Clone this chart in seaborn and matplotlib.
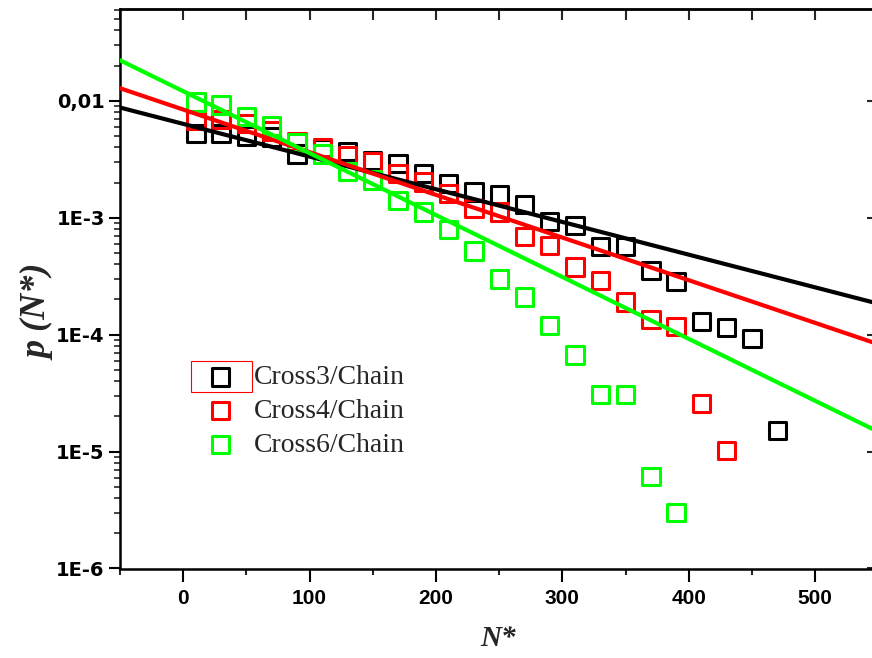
import numpy as np
import matplotlib
matplotlib.use("Agg")
import matplotlib.pyplot as plt
from matplotlib.patches import Rectangle
from matplotlib.font_manager import FontProperties
from matplotlib.ticker import LogLocator, MultipleLocator, NullFormatter, NullLocator
import seaborn as sns

# Cluster-size distributions p(N*) for three cross-linker / chain ratios
n_cross3 = [10, 30, 50, 70, 90, 110, 130, 150, 170, 190, 210, 230, 250, 270,
            290, 310, 330, 350, 370, 390, 410, 430, 450, 470]
p_cross3 = [0.00525, 0.00525, 0.0050, 0.0049, 0.0035, 0.0039, 0.0037, 0.0031,
            0.0029, 0.0024, 0.00196, 0.00166, 0.00156, 0.0013, 0.00093, 0.00086,
            0.00057, 0.00057, 0.000355, 0.000286, 0.00013, 0.000115, 9.25e-5, 1.52e-5]

n_cross4 = [10, 30, 50, 70, 90, 110, 130, 150, 170, 190, 210, 230, 250, 270,
            290, 310, 330, 350, 370, 390, 410, 430]
p_cross4 = [0.0068, 0.0069, 0.0064, 0.0055, 0.0045, 0.0040, 0.0034, 0.0030,
            0.0024, 0.00202, 0.00161, 0.0012, 0.00112, 0.00069, 0.00058, 0.00038,
            0.00029, 0.00019, 0.000135, 0.000118, 2.57e-5, 1.02e-5]

n_cross6 = [10, 30, 50, 70, 90, 110, 130, 150, 170, 190, 210, 230, 250, 270,
            290, 310, 330, 350, 370, 390]
p_cross6 = [0.0098, 0.0092, 0.0073, 0.0061, 0.0044, 0.0035, 0.0025, 0.0021,
            0.00141, 0.00112, 0.00079, 0.00052, 0.00030, 0.00021, 0.00012, 6.7e-5,
            3.07e-5, 3.07e-5, 6.1e-6, 3.0e-6]

# Exponential fits p(N*) = A * exp(-N* / tau)
fit_amp = [0.00635, 0.00842, 0.01208]
fit_tau = [155.3, 119.0, 82.0]

series_labels = ["Cross3/Chain", "Cross4/Chain", "Cross6/Chain"]
series_colors = ["#000000", "#ff0000", "#00ff00"]

x_ticks = [0, 100, 200, 300, 400, 500]
y_ticks = [1e-6, 1e-5, 1e-4, 1e-3, 1e-2]
y_ticklabels = ["1E-6", "1E-5", "1E-4", "1E-3", "0,01"]

sns.set_style("white")

W, H = 872, 658
fig = plt.figure(figsize=(W / 100, H / 100), dpi=100)
ax_left, ax_right, ax_top, ax_bottom = 120, 878.4, 9, 568.5
ax = fig.add_axes([ax_left / W, 1 - ax_bottom / H,
                   (ax_right - ax_left) / W, (ax_bottom - ax_top) / H])

handles = []
for n, p, col, lab in zip([n_cross3, n_cross4, n_cross6],
                          [p_cross3, p_cross4, p_cross6],
                          series_colors, series_labels):
    sns.scatterplot(x=n, y=p, marker="s", s=12.5 ** 2, color=col,
                    facecolor="none", edgecolor=col, linewidth=2.2,
                    ax=ax, zorder=3, label=lab, legend=False)
    handles.append(ax.collections[-1])

xs = np.linspace(-50, 550, 300)
for amp, tau, col in zip(fit_amp, fit_tau, series_colors):
    sns.lineplot(x=xs, y=amp * np.exp(-xs / tau), color=col, linewidth=3.0,
                 ax=ax, zorder=4, legend=False)

ax.set_yscale("log")
ax.set_xlim(-50, 550)
ax.set_ylim(1e-6, 0.061)

# ticks
ax.set_xticks(x_ticks, labels=[str(v) for v in x_ticks],
              fontfamily="Liberation Sans", fontweight="bold", fontsize=15)
ax.xaxis.set_minor_locator(MultipleLocator(50))
ax.set_yticks(y_ticks, labels=y_ticklabels,
              fontfamily="DejaVu Sans", fontweight="bold", fontsize=14)
ax.yaxis.set_minor_locator(LogLocator(base=10, subs=range(2, 10), numticks=20))
ax.yaxis.set_minor_formatter(NullFormatter())

ax.tick_params(axis="x", which="major", direction="out", length=9.4, width=1.5,
               bottom=True, top=False, pad=5, colors="black")
ax.tick_params(axis="x", which="minor", direction="out", length=4.3, width=1.5,
               bottom=True, top=False)
ax.tick_params(axis="y", which="major", direction="out", length=8, width=1.5,
               left=True, right=False, pad=3, colors="black")
ax.tick_params(axis="y", which="minor", direction="out", length=4, width=1.2,
               left=True, right=False)

for sp in ax.spines.values():
    sp.set_visible(True)
    sp.set_linewidth(1.8)
    sp.set_color("black")

# inward ticks on the top and right frame
top = ax.secondary_xaxis("top")
top.set_xticks(np.arange(-50, 551, 50))
top.xaxis.set_minor_locator(NullLocator())
top.tick_params(direction="in", length=8, width=1.5, labeltop=False)
top.spines["top"].set_linewidth(1.8)

right = ax.secondary_yaxis("right")
right.set_yticks(y_ticks)
right.yaxis.set_minor_locator(NullLocator())
right.tick_params(direction="in", length=8, width=1.5, labelright=False)
right.spines["right"].set_linewidth(1.8)

ax.set_xlabel("N*", fontfamily="Liberation Serif", fontstyle="italic",
              fontweight="bold", fontsize=21)
ax.xaxis.set_label_coords(0.498, -0.101)
ax.set_ylabel("p (N*)", fontfamily="Liberation Serif", fontstyle="italic",
              fontweight="bold", fontsize=26)
ax.yaxis.set_label_coords(-0.085, 0.458)

ax.legend(handles=handles, labels=series_labels, loc="upper left",
          bbox_to_anchor=(0.1145, 0.3643), frameon=False,
          prop=FontProperties(family="Liberation Serif", size=20),
          handlelength=1.0, handletextpad=0.68, labelspacing=0.30,
          borderpad=0, borderaxespad=0)

fig.add_artist(Rectangle((190.7 / W, 1 - 391.7 / H), 61 / W, 31 / H,
                         transform=fig.transFigure, fill=False,
                         edgecolor="#ff0000", linewidth=0.8, zorder=10))

fig.savefig("out.png", dpi=100)
